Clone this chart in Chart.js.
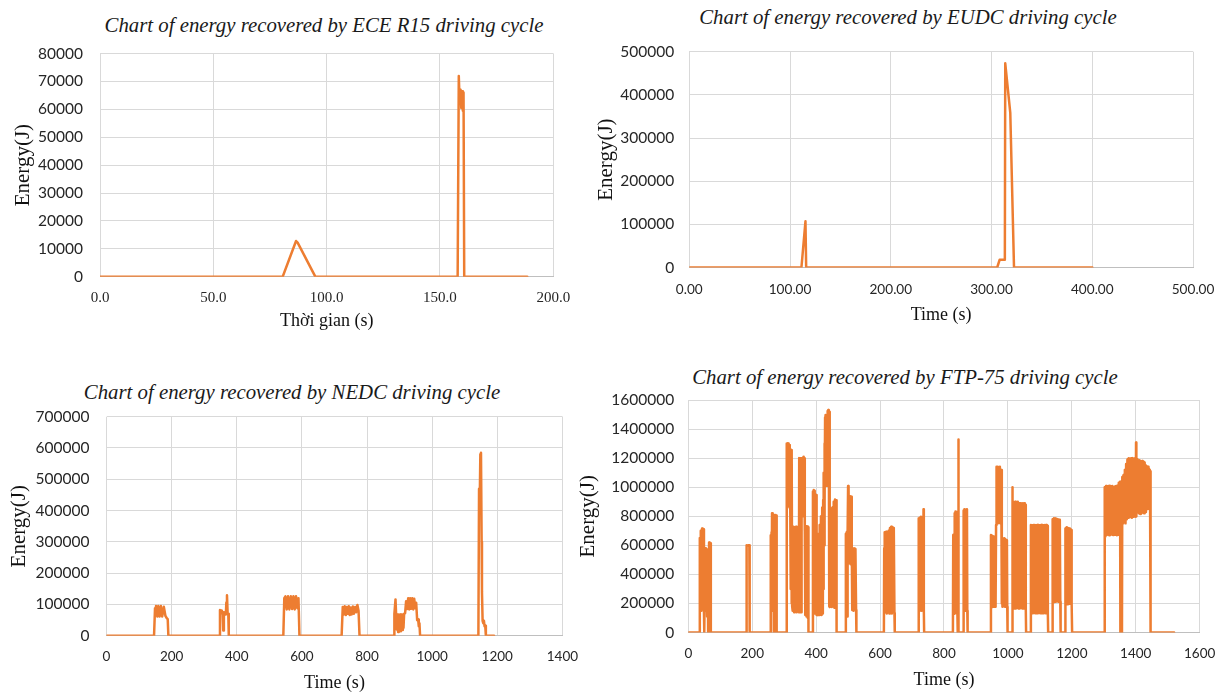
<!DOCTYPE html>
<html>
<head>
<meta charset="utf-8">
<script src="https://cdn.jsdelivr.net/npm/chart.js@4.4.0/dist/chart.umd.min.js"></script>
<style>
  body { margin: 0; background: #fff; width: 1228px; height: 693px; overflow: hidden; position: relative; }
  canvas { position: absolute; }
  .ttl { position: absolute; font: italic 20.8px "Liberation Serif", serif; color: #1a1a1a; white-space: nowrap; transform: translate(-50%, -50%); }
</style>
</head>
<body>
<div class="ttl" style="left:324px;top:25px">Chart of energy recovered by ECE R15 driving cycle</div>
<div class="ttl" style="left:908px;top:17px">Chart of energy recovered by EUDC driving cycle</div>
<div class="ttl" style="left:292px;top:392px">Chart of energy recovered by NEDC driving cycle</div>
<div class="ttl" style="left:905px;top:377px">Chart of energy recovered by FTP-75 driving cycle</div>

<canvas id="ece" width="614" height="345" style="left:0;top:0"></canvas>
<canvas id="eudc" width="653" height="345" style="left:575px;top:0"></canvas>
<canvas id="nedc" width="614" height="350" style="left:0;top:345px"></canvas>
<canvas id="ftp" width="653" height="350" style="left:575px;top:345px"></canvas>

<script>
// ECE R15 cycle
const eceTime   = [0, 80.6, 86.5, 87.2, 95, 157.8, 158.3, 158.7, 159.1, 159.4, 159.8, 160.1, 160.4, 160.7, 188.5];
const eceEnergy = [0, 0, 12800, 12200, 0, 0, 71900, 62000, 67000, 60500, 66500, 59500, 66000, 0, 0];

// EUDC cycle
const eudcTime   = [0, 111.3, 115.3, 116, 305.6, 308, 313.2, 313.6, 318.6, 322.3, 400];
const eudcEnergy = [0, 0, 107000, 0, 0, 17800, 18000, 473000, 358000, 0, 0];

// NEDC cycle
const nedcTime = [
  0, 146, 149, 152, 156, 159, 163, 167, 171, 176, 181, 185, 188, 190,
  346.5, 348.5, 350.5, 352.5, 354.5, 356.5, 358.5, 360.5, 362.5, 364.5, 366.5, 368, 370, 372, 374, 375.5,
  543, 546, 549.5, 553.5, 557.5, 561.5, 566, 570, 574, 578, 582, 586, 589.5, 592.5,
  722, 725.5, 728.5, 731.5, 735, 738, 741, 744, 747, 750, 753, 756.5, 759.5, 763.5, 766.5, 770.5, 774, 777,
  883, 884, 887.5, 889.5, 891.5, 893.5, 895.5, 897.5, 900, 902, 904, 906, 908, 910, 912, 914, 917, 920, 923, 926.5, 929.5, 932.5, 935.5, 939, 942, 945, 948, 951, 954, 957, 959, 961, 963,
  1142, 1144, 1146, 1148, 1150, 1152, 1153, 1155, 1157, 1159, 1161, 1163, 1165, 1190
];
const nedcEnergy = [
  0, 0, 88000, 94700, 61000, 94700, 61000, 94700, 61000, 92600, 63000, 55800, 52600, 0,
  0, 82000, 76000, 80000, 72000, 76000, 17000, 74000, 70000, 76000, 68000, 106000, 129500, 72000, 70000, 0,
  0, 120000, 126000, 84000, 126000, 84000, 126000, 85000, 126000, 84000, 126000, 88000, 120000, 0,
  0, 92000, 68000, 94000, 66000, 92000, 70000, 94000, 66000, 90000, 68000, 93000, 70000, 92000, 75000, 98000, 80000, 0,
  0, 70000, 116000, 65000, 20000, 68000, 12000, 68000, 15000, 68000, 14000, 68000, 18000, 68000, 25000, 70000, 72000, 110000, 85000, 120000, 84000, 120000, 86000, 120000, 84000, 118000, 88000, 105000, 50000, 52000, 30000, 40000, 0,
  0, 470000, 420000, 580000, 585000, 300000, 140000, 47000, 40000, 48000, 30000, 32000, 0, 0
];

// FTP-75 cycle
const ftpTime = [
  0, 35,
  36, 37, 39, 41, 43, 45, 47, 49, 50, 52, 53, 55, 57, 59, 61, 62, 63, 65, 67, 69, 70, 71,
  181, 182, 183, 185, 187, 189, 191, 192,
  257, 258, 259, 260, 261, 262, 263, 264, 265, 266, 267, 268, 270, 271, 272, 273, 274, 275, 276, 277,
  307, 308, 309, 310, 311, 312, 313, 314, 315, 316, 317, 318, 319, 320, 321, 322, 323, 324, 325,
  326, 327, 329, 331, 333, 335, 337, 339, 341, 343, 345, 346,
  347, 348, 349, 350, 351, 352, 353, 354, 355, 356, 357, 358, 359, 360, 361, 362, 363, 364,
  365, 366, 368, 370, 372, 374, 375, 376,
  389, 390, 391, 392, 393, 394, 395, 396, 397, 398, 399, 400, 401, 402, 403, 404, 405, 406, 407,
  408, 409, 411, 413, 415, 417, 419, 421, 422, 423, 424, 425, 426, 427,
  428, 429, 430, 431, 432, 433, 434, 435, 436, 437, 438, 439, 440, 441, 442, 443,
  444, 445, 447, 449, 451, 453, 455, 457, 459, 461, 463, 464,
  492, 493, 494, 495, 496, 497, 498, 499, 500, 501, 502, 503, 504, 505, 506, 507, 508, 509, 510, 511,
  512, 513, 515, 517, 519, 521, 523, 525, 526,
  612, 613, 614, 615, 617, 619, 621, 623, 625, 627, 629, 631, 633, 635, 637, 639, 641, 643, 645, 646,
  720, 721, 722, 724, 726, 728, 730, 732, 734, 736, 737, 738,
  828, 829, 830, 831, 832, 833, 834, 836, 838, 840, 842, 843, 844, 845, 846,
  860, 861, 862, 864, 866, 868, 870, 872, 873, 874,
  946, 947, 948, 950, 952, 954, 956, 958, 960, 961, 962,
  963, 964, 965, 966, 967, 968, 969, 971, 973, 975, 977, 979, 981,
  982, 983, 985, 987, 989, 991, 993, 995, 997, 998, 999,
  1013, 1014, 1015, 1016, 1017, 1019, 1021, 1023, 1025, 1027, 1029, 1031, 1033, 1035, 1037, 1039, 1041, 1043, 1045, 1047, 1049, 1051, 1053, 1055, 1056, 1057,
  1071, 1072, 1074, 1076, 1078, 1080, 1082, 1084, 1086, 1088, 1090, 1092, 1094, 1096, 1098, 1100, 1102, 1104, 1106, 1108, 1110, 1112, 1114, 1116, 1118, 1120, 1122, 1124, 1125, 1126,
  1139, 1140, 1142, 1144, 1146, 1148, 1150, 1152, 1154, 1156, 1158, 1160, 1162, 1163, 1164, 1165,
  1179, 1180, 1182, 1184, 1186, 1188, 1190, 1192, 1194, 1196, 1198, 1199, 1200, 1201,
  1302, 1303, 1305, 1307, 1309, 1311, 1313, 1315, 1317, 1319, 1321, 1323, 1325, 1327, 1329, 1331, 1333, 1335, 1337, 1339, 1341, 1343, 1345, 1347, 1349, 1351, 1352,
  1357, 1358, 1360, 1362, 1364, 1366, 1368, 1370, 1372, 1374, 1376, 1378, 1380, 1382, 1384, 1386, 1388, 1390, 1392, 1394, 1396, 1398, 1400, 1401, 1402, 1404, 1406, 1408, 1410, 1412, 1414, 1416, 1418, 1420, 1422, 1424, 1426, 1428, 1430, 1432, 1434, 1436, 1438, 1440, 1442, 1444, 1445, 1446, 1447, 1520
];
const ftpEnergy = [
  0, 0,
  650000, 160000, 700000, 150000, 715000, 170000, 710000, 140000, 0, 0, 580000, 150000, 575000, 110000, 550000, 0, 100000, 620000, 120000, 615000, 110000, 0,
  0, 500000, 600000, 598000, 600000, 598000, 600000, 0,
  0, 670000, 160000, 690000, 150000, 820000, 160000, 815000, 150000, 810000, 170000, 0, 0, 790000, 160000, 808000, 150000, 805000, 160000, 0,
  0, 1300000, 870000, 1302000, 860000, 1300000, 880000, 1295000, 870000, 1290000, 880000, 1285000, 860000, 1260000, 300000, 1256000, 200000, 1250000, 180000,
  720000, 150000, 728000, 140000, 725000, 150000, 728000, 140000, 720000, 150000, 728000, 140000,
  1200000, 150000, 1195000, 140000, 1200000, 145000, 1198000, 140000, 1200000, 810000, 1200000, 800000, 1205000, 808000, 1210000, 810000, 1200000, 700000,
  730000, 120000, 733000, 110000, 730000, 100000, 725000, 0,
  0, 970000, 200000, 981000, 130000, 975000, 150000, 960000, 130000, 950000, 210000, 946000, 120000, 636000, 125000, 640000, 120000, 636000, 130000,
  680000, 120000, 740000, 125000, 800000, 120000, 860000, 130000, 912000, 300000, 1100000, 600000, 1300000, 900000,
  1480000, 1015000, 1497000, 1010000, 1495000, 1020000, 1497000, 1015000, 1525000, 1010000, 1531000, 1020000, 1528000, 180000, 1520000, 175000,
  855000, 180000, 850000, 175000, 860000, 180000, 900000, 170000, 916000, 175000, 910000, 0,
  0, 680000, 110000, 690000, 120000, 694000, 110000, 690000, 1008000, 480000, 1000000, 476000, 940000, 480000, 935000, 470000, 930000, 476000, 935000, 480000,
  580000, 155000, 579000, 150000, 578000, 160000, 575000, 155000, 0,
  0, 580000, 180000, 690000, 140000, 694000, 130000, 690000, 140000, 700000, 130000, 720000, 140000, 728000, 130000, 725000, 140000, 720000, 135000, 0,
  0, 786000, 150000, 790000, 155000, 797000, 150000, 795000, 155000, 848000, 150000, 0,
  0, 671000, 140000, 675000, 135000, 820000, 130000, 832000, 135000, 830000, 132000, 0, 300000, 1329000, 0,
  0, 840000, 155000, 848000, 150000, 845000, 155000, 848000, 150000, 0,
  0, 671000, 180000, 668000, 175000, 660000, 178000, 650000, 180000, 648000, 178000,
  740000, 1141000, 751000, 1130000, 760000, 1141000, 751000, 1135000, 755000, 1141000, 750000, 1118000, 200000,
  648000, 178000, 645000, 180000, 648000, 178000, 640000, 180000, 635000, 178000, 0,
  0, 999000, 170000, 900000, 166000, 898000, 165000, 900000, 166000, 895000, 170000, 900000, 165000, 890000, 166000, 889000, 170000, 885000, 165000, 889000, 166000, 890000, 165000, 880000, 166000, 0,
  0, 740000, 135000, 738000, 132000, 740000, 134000, 740000, 132000, 738000, 133000, 740000, 132000, 740000, 135000, 738000, 132000, 740000, 133000, 740000, 132000, 738000, 134000, 740000, 132000, 740000, 133000, 735000, 132000, 0,
  0, 780000, 212000, 786000, 210000, 785000, 212000, 782000, 215000, 780000, 212000, 776000, 210000, 774000, 212000, 0,
  0, 715000, 196000, 724000, 195000, 720000, 196000, 715000, 198000, 710000, 195000, 705000, 196000, 0,
  0, 1000000, 660000, 1008000, 671000, 1005000, 675000, 1008000, 670000, 1010000, 672000, 1005000, 675000, 1008000, 671000, 1000000, 672000, 1005000, 675000, 1008000, 670000, 1010000, 672000, 1030000, 671000, 1038000, 0,
  0, 1070000, 750000, 1084000, 760000, 1120000, 751000, 1160000, 780000, 1190000, 790000, 1199000, 795000, 1195000, 797000, 1199000, 790000, 1200000, 797000, 1195000, 800000, 1199000, 797000, 1307000, 800000, 1190000, 880000, 1180000, 820000, 1185000, 815000, 1176000, 820000, 1180000, 825000, 1176000, 820000, 1170000, 830000, 1150000, 855000, 1141000, 850000, 1140000, 855000, 1120000, 840000, 1110000, 0, 0
];

const ORANGE = '#ED7D31';
const GRID = '#d9d9d9';
const TICK_COLOR = '#262626';
const serif = '"Liberation Serif", "Times New Roman", serif';
const sans = 'Lato, "Noto Sans", sans-serif';

// box = canvas position on the page, area = plot area on the page
function makeChart(id, box, area, xs, ys, times, energy) {
  const xTickFont = xs.font;
  const yTickFont = { family: sans, size: 15.5 };
  const xTitleFont = { family: serif, size: 18 };
  const yTitleFont = { family: serif, size: 21 };
  const pts = times.map((t, i) => ({ x: t, y: energy[i] }));

  return new Chart(document.getElementById(id), {
    type: 'line',
    data: {
      datasets: [{
        data: pts,
        borderColor: ORANGE,
        borderWidth: 2.5,
        borderJoinStyle: 'round',
        borderCapStyle: 'round',
        pointRadius: 0,
        tension: 0,
        fill: false
      }]
    },
    options: {
      responsive: false,
      animation: false,
      parsing: false,
      layout: { padding: { top: area.T - box.y, right: box.x + box.w - area.R, left: 0, bottom: 0 } },
      plugins: { legend: { display: false }, tooltip: { enabled: false } },
      scales: {
        x: {
          type: 'linear',
          min: xs.min, max: xs.max,
          afterFit: s => { s.height = box.y + box.h - area.B; },
          grid: { color: GRID, drawTicks: false },
          border: { display: true, color: '#bfbfbf' },
          ticks: {
            stepSize: xs.step, autoSkip: false, maxRotation: 0,
            color: TICK_COLOR, font: xTickFont,
            padding: xs.tickY - area.B - xTickFont.size * 0.6,
            callback: xs.fmt
          },
          title: {
            display: true, text: xs.title, color: '#111', font: xTitleFont,
            padding: { top: 0, bottom: box.y + box.h - xs.titleY - xTitleFont.size * 0.6 }
          }
        },
        y: {
          min: 0, max: ys.max,
          afterFit: s => { s.width = area.L - box.x; },
          grid: { color: GRID, drawTicks: false },
          border: { display: false },
          ticks: {
            stepSize: ys.step, color: TICK_COLOR, font: yTickFont,
            padding: ys.gap,
            callback: v => String(v)
          },
          title: {
            display: true, text: 'Energy(J)', color: '#111', font: yTitleFont,
            padding: { top: ys.titleX - box.x - yTitleFont.size * 0.6, bottom: 0 }
          }
        }
      }
    }
  });
}

makeChart('ece',
  { x: 0, y: 0, w: 614, h: 345 },
  { L: 100, T: 53.5, R: 553.3, B: 276.7 },
  { min: 0, max: 200, step: 50, fmt: v => v.toFixed(1), font: { family: serif, size: 15 }, tickY: 298, title: 'Thời gian (s)', titleY: 321.7 },
  { max: 80000, step: 10000, gap: 17, titleX: 23 },
  eceTime, eceEnergy);

makeChart('eudc',
  { x: 575, y: 0, w: 653, h: 345 },
  { L: 689.3, T: 51.7, R: 1194.3, B: 267.5 },
  { min: 0, max: 500, step: 100, fmt: v => v.toFixed(2), font: { family: sans, size: 13.6 }, tickY: 289.3, title: 'Time (s)', titleY: 315 },
  { max: 500000, step: 100000, gap: 15, titleX: 606 },
  eudcTime, eudcEnergy);

makeChart('nedc',
  { x: 0, y: 345, w: 614, h: 350 },
  { L: 106.5, T: 416.7, R: 562.4, B: 635.7 },
  { min: 0, max: 1400, step: 200, fmt: v => String(v), font: { family: sans, size: 13.5 }, tickY: 656.7, title: 'Time (s)', titleY: 683 },
  { max: 700000, step: 100000, gap: 17, titleX: 19 },
  nedcTime, nedcEnergy);

makeChart('ftp',
  { x: 575, y: 345, w: 653, h: 350 },
  { L: 688.3, T: 400, R: 1208.3, B: 632.5 },
  { min: 0, max: 1600, step: 200, fmt: v => String(v), font: { family: sans, size: 13.5 }, tickY: 653.3, title: 'Time (s)', titleY: 680.7 },
  { max: 1600000, step: 200000, gap: 14, titleX: 588 },
  ftpTime, ftpEnergy);
</script>
</body>
</html>
